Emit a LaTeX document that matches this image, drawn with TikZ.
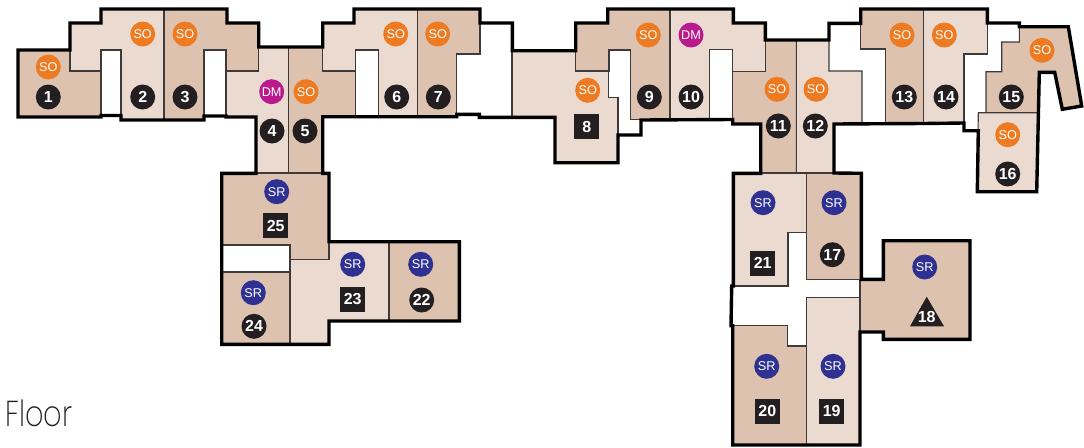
\documentclass[tikz,border=0pt]{standalone}
\usepackage{fontspec}
\setmainfont{Liberation Sans}
\newfontfamily\floorfont[UprightFont=* ExtraLight]{Poppins}
\definecolor{roomdk}{HTML}{DDC2B0}
\definecolor{roomlt}{HTML}{EBDAD0}
\definecolor{wallthin}{HTML}{3F3A38}
\definecolor{markso}{HTML}{EE7B22}
\definecolor{markdm}{HTML}{BB1A8D}
\definecolor{marksr}{HTML}{2E3192}
\definecolor{marknum}{HTML}{231F20}
\tikzset{
  x=1pt,y=-1pt,
  dkroom/.style={fill=roomdk,draw=wallthin,line width=1.1pt,line join=miter},
  ltroom/.style={fill=roomlt,draw=wallthin,line width=1.1pt,line join=miter},
  shell/.style={draw=black,line width=3.4pt,line join=miter,miter limit=4},
  badge/.style={circle,inner sep=0pt,minimum size=25pt,text=white,font=\fontsize{12.7}{13}\selectfont},
  so/.style={badge,fill=markso},
  dmk/.style={badge,fill=markdm},
  sr/.style={badge,fill=marksr},
  num/.style={circle,fill=marknum,inner sep=0pt,minimum size=25pt,text=white,font=\fontsize{16}{16}\selectfont\bfseries},
  sq/.style={rectangle,fill=marknum,inner sep=0pt,minimum size=25pt,text=white,font=\fontsize{16}{16}\selectfont\bfseries},
  tri/.style={inner sep=0pt,text=white,font=\fontsize{16}{16}\selectfont\bfseries},
}
\begin{document}
\begin{tikzpicture}
\useasboundingbox (0,0) rectangle (1084,447);
% rooms
\path[dkroom] (18,50)--(70,50)--(70,71)--(101,71)--(101,117)--(18,117)--cycle;
\path[ltroom] (70,23)--(101,23)--(101,9)--(164,9)--(164,120)--(121,120)--(121,50)--(101,50)--(101,71)--(70,71)--cycle;
\path[dkroom] (164,9)--(227,9)--(227,23)--(258.7,23)--(258.7,71)--(226,71)--(226,50)--(204,50)--(204,120)--(164,120)--cycle;
\path[ltroom] (226,71)--(258.7,71)--(258.7,47)--(288.7,47)--(288.7,173)--(256,173)--(256,117)--(226,117)--cycle;
\path[dkroom] (288.7,47)--(322.7,47)--(322.7,71)--(355.3,71)--(355.3,116.7)--(322.7,116.7)--(322.7,173)--(288.7,173)--cycle;
\path[ltroom] (322.7,23)--(354,23)--(354,9)--(417.3,9)--(417.3,116.7)--(378.3,116.7)--(378.3,50)--(355.3,50)--(355.3,71)--(322.7,71)--cycle;
\path[dkroom] (417.3,9)--(480,9)--(480,54)--(456.7,54)--(456.7,116.7)--(417.3,116.7)--cycle;
\path[ltroom] (512,50.7)--(575.7,50.7)--(575.7,71)--(608.3,71)--(608.3,97.7)--(618,97.7)--(618,162.7)--(555,162.7)--(555,117.3)--(512,117.3)--cycle;
\path[dkroom] (575.7,23)--(607.7,23)--(607.7,9)--(670,9)--(670,119.3)--(630.7,119.3)--(630.7,50)--(609,50)--(609,71)--(575.7,71)--cycle;
\path[ltroom] (670,9)--(733.3,9)--(733.3,23)--(765.3,23)--(765.3,71.3)--(732.7,71.3)--(732.7,49.3)--(709.3,49.3)--(709.3,119.3)--(670,119.3)--cycle;
\path[dkroom] (732.7,71.3)--(765.3,71.3)--(765.3,40)--(796.3,40)--(796.3,172.7)--(760.7,172.7)--(760.7,124)--(732.7,124)--cycle;
\path[ltroom] (796.3,40)--(829,40)--(829,71)--(862,71)--(862,123.5)--(834,124)--(834,172.7)--(796.3,172.7)--cycle;
\path[dkroom] (860.7,9)--(923.7,9)--(923.7,123.3)--(885.7,123.3)--(885.7,49)--(860.7,49)--cycle;
\path[ltroom] (923.7,9)--(987.3,9)--(987.3,54)--(964,54)--(964,122.7)--(923.7,122.7)--cycle;
\path[dkroom] (1019.3,26.7)--(1068.3,26.7)--(1081.7,106)--(1062.3,109.3)--(1054.7,72.3)--(1039.3,72.3)--(1038.3,112.7)--(986,112.7)--(986,71.7)--(1001.7,71.7)--(1001.7,42)--(1019.3,42)--cycle;
\path[ltroom] (978.3,112.7)--(1038.3,112.7)--(1036.7,191.7)--(977.3,191.7)--cycle;
\path[dkroom] (806.7,173.3)--(861.3,173.3)--(861.3,279.3)--(806.7,279.3)--cycle;
\path[ltroom] (733.3,173.3)--(806.7,173.3)--(806.7,232.7)--(788,232.7)--(788,286)--(733.3,286)--cycle;
\path[dkroom] (883.3,240.7)--(970,240.7)--(970,339.3)--(883.3,339.3)--(883.3,332)--(860,332)--(860,279.3)--(883.3,279.3)--cycle;
\path[ltroom] (806.7,297.3)--(860,297.3)--(860,445)--(806.7,445)--cycle;
\path[dkroom] (732.7,325.7)--(787.3,325.7)--(787.3,346)--(806.7,346)--(806.7,445)--(732.7,445)--cycle;
\path[dkroom] (221.7,173.3)--(329,173.3)--(329,259.3)--(290,259.3)--(290,245)--(221.7,245)--cycle;
\path[dkroom] (221.7,272)--(290,272)--(290,344.3)--(221.7,344.3)--cycle;
\path[ltroom] (329,241.7)--(389,241.7)--(389,321)--(329,321)--(329,344.3)--(290,344.3)--(290,259.3)--(329,259.3)--cycle;
\path[dkroom] (389,241.7)--(459.3,241.7)--(459.3,321)--(389,321)--cycle;
% outer wall
\path[shell] (18,50)--(70,50)--(70,23)--(101,23)--(101,9)--(227,9)--(227,23)--(258.7,23)--(258.7,47)--(322.7,47)--(322.7,23)--(354,23)--(354,9)--(480,9)--(480,23)--(512.3,23)--(512.3,50.7)--(575.7,50.7)--(575.7,23)--(607.7,23)--(607.7,9)--(733.3,9)--(733.3,23)--(765.3,23)--(765.3,40)--(829,40)--(829,23.3)--(860.7,23.3)--(860.7,9)--(987.3,9)--(987.3,23)--(1019.3,23)--(1019.3,26.7)--(1068.3,26.7)--(1081.7,106)--(1062.3,109.3)--(1054.7,72.3)--(1039.3,72.3)--(1036.7,191.7)--(977.3,191.7)--(978.3,130.7)--(964,130.7)--(964,123)--(923.7,123.5)--(834,124)--(834,173)--(861.3,173.3)--(861.3,279.3)--(883.3,279.3)--(883.3,240.7)--(970,240.7)--(970,339.3)--(883.3,339.3)--(883.3,332)--(860,332)--(860,445)--(732.7,445)--(732.7,325.7)--(731,325.7)--(731.7,286)--(733.3,286)--(733.3,173.3)--(760.7,173.3)--(760.7,124)--(732.7,124)--(732.7,119.5)--(641,120)--(641,135)--(618,135)--(618,162.7)--(555,162.7)--(555,117.3)--(479.3,117.3)--(479.3,114.3)--(456.7,114.3)--(456.7,116.7)--(322.7,116.7)--(322.7,173.3)--(329,173.3)--(329,241.7)--(459.3,241.7)--(459.3,321)--(329,321)--(329,344.3)--(221.7,344.3)--(221.7,173.3)--(256,173.3)--(256,117)--(226,117)--(226,116)--(204,116)--(204,120)--(121,120)--(121,115.5)--(101,115.5)--(101,117)--(18,117)--cycle;
% markers
\node[so] (a1) at (48.3,67) {SO}; \node[num] (n1) at (48.3,97) {1};
\node[so] (a2) at (142.7,34) {SO}; \node[num] (n2) at (142.7,97) {2};
\node[so] (a3) at (185,34) {SO}; \node[num] (n3) at (185,97) {3};
\node[dmk] (a4) at (271.7,91.7) {DM}; \node[num] (n4) at (272,131) {4};
\node[so] (a5) at (306,91.7) {SO}; \node[num] (n5) at (305,131) {5};
\node[so] (a6) at (395.7,34) {SO}; \node[num] (n6) at (396.7,97) {6};
\node[so] (a7) at (437.7,34) {SO}; \node[num] (n7) at (438.3,97) {7};
\node[so] (a8) at (587.7,90.3) {SO}; \node[sq] (n8) at (586.7,126.7) {8};
\node[so] (a9) at (648.3,35) {SO}; \node[num] (n9) at (649.3,97) {9};
\node[dmk] (a10) at (691,35) {DM}; \node[num] (n10) at (691,97) {10};
\node[so] (a11) at (777,89.3) {SO}; \node[num] (n11) at (778.3,126) {11};
\node[so] (a12) at (816,89.3) {SO}; \node[num] (n12) at (815.3,126) {12};
\node[so] (a13) at (902,35) {SO}; \node[num] (n13) at (904.3,97) {13};
\node[so] (a14) at (944.3,35) {SO}; \node[num] (n14) at (946,97) {14};
\node[so] (a15) at (1042,50.3) {SO}; \node[num] (n15) at (1011.3,97) {15};
\node[so] (a16) at (1007.7,134.7) {SO}; \node[num] (n16) at (1007.7,174) {16};
\node[sr] (a17) at (834,202.7) {SR}; \node[num] (n17) at (832.3,254.7) {17};
\node[sr] (a18) at (924.7,267) {SR};
\fill[marknum] (926.7,296.7)--(944,326.3)--(910,326.3)--cycle;
\node[tri] (n18) at (926.7,317.3) {18};
\node[sr] (a19) at (833,366.3) {SR}; \node[sq] (n19) at (831.7,411.3) {19};
\node[sr] (a20) at (766.7,366.3) {SR}; \node[sq] (n20) at (767.3,411.3) {20};
\node[sr] (a21) at (763,202.7) {SR}; \node[sq] (n21) at (762.7,263.3) {21};
\node[sr] (a22) at (420.7,264.3) {SR}; \node[num] (n22) at (421.7,300) {22};
\node[sr] (a23) at (352.7,264.3) {SR}; \node[sq] (n23) at (352.7,299.3) {23};
\node[sr] (a24) at (253.3,292.7) {SR}; \node[num] (n24) at (254,326.3) {24};
\node[sr] (a25) at (276.7,191.7) {SR}; \node[sq] (n25) at (275.7,225.7) {25};
% caption
\node[anchor=base west,inner sep=0pt,text=marknum,font=\floorfont\fontsize{36}{36}\selectfont] (cap) at (5,426.7) {\scalebox{0.8}[1]{Floor}};
\end{tikzpicture}
\end{document}
